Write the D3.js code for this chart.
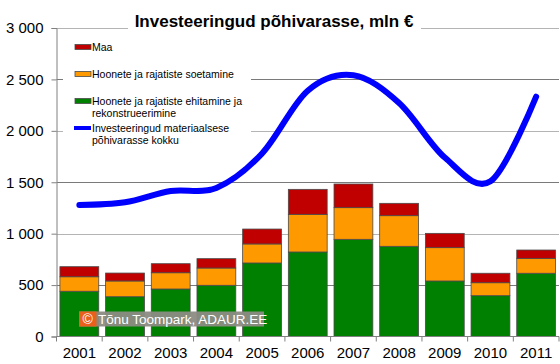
<!DOCTYPE html>
<html><head><meta charset="utf-8">
<script src="https://cdn.jsdelivr.net/npm/d3@7"></script>
<style>
body{margin:0;background:#fff;}
svg{display:block;font-family:"Liberation Sans",Arial,sans-serif;}
</style></head>
<body>
<svg id="c" width="560" height="364"></svg>
<script>
const years = ["2001","2002","2003","2004","2005","2006","2007","2008","2009","2010","2011"];
const ehitamine = [440,387,462,498,715,822,945,877,540,397,615];
const soetamine = [141,153,158,168,185,366,308,298,324,126,145];
const maa = [98,77,88,91,145,243,230,120,139,92,81];
const kokku = [1279,1305,1415,1445,1780,2390,2540,2270,1740,1510,2332];
const yTicks = [0,500,1000,1500,2000,2500,3000];
const seriesNames = ["Maa","Hoonete ja rajatiste soetamine","Hoonete ja rajatiste ehitamine ja|rekonstrueerimine","Investeeringud materiaalsese|põhivarasse kokku"];
const title = "Investeeringud põhivarasse, mln €";

const svg = d3.select("#c");
const L = 56.5, R = 559, T = 28, B = 336.5;
const x = d3.scaleBand().domain(years).range([L,R]).paddingInner(0.15).paddingOuter(0.075);
const y = d3.scaleLinear().domain([0,3000]).range([B,T]);

// gridlines
svg.append("g").selectAll("line").data(yTicks.filter(d=>d>0)).join("line")
  .attr("x1",L).attr("x2",R).attr("y1",d=>Math.round(y(d))+0.5).attr("y2",d=>Math.round(y(d))+0.5)
  .attr("stroke",(d,i)=> i%2? "#b4b4b4":"#7a7a7a").attr("stroke-width",1);

// stacked bars
const rows = years.map((yr,i)=>({year:yr,ehitamine:ehitamine[i],soetamine:soetamine[i],maa:maa[i]}));
const stack = d3.stack().keys(["ehitamine","soetamine","maa"])(rows);
const colors = {ehitamine:"#008000",soetamine:"#ff9900",maa:"#c00000"};
svg.append("g").selectAll("g").data(stack).join("g")
  .attr("fill",d=>colors[d.key])
  .selectAll("rect").data(d=>d).join("rect")
  .attr("x",d=>x(d.data.year)).attr("width",x.bandwidth())
  .attr("y",d=>y(d[1])).attr("height",d=>y(d[0])-y(d[1]))
  .attr("stroke","#4a4a4a").attr("stroke-width",0.8);

// axes
const yAxis = svg.append("g").attr("transform",`translate(${L},0)`)
  .call(d3.axisLeft(y).tickValues(yTicks).tickSize(5).tickPadding(8)
    .tickFormat(d=>d3.format(",")(d).replace(/,/g," ")));
yAxis.select(".domain").attr("stroke","#808080");
yAxis.selectAll(".tick line").attr("stroke","#808080");
yAxis.selectAll("text").attr("font-size",15).attr("fill","#000").attr("font-family","Liberation Sans, Arial, sans-serif");

const xg = svg.append("g").attr("transform",`translate(0,${B})`);
xg.append("line").attr("x1",L).attr("x2",R).attr("stroke","#808080");
const bounds = years.map(d=>x(d)-x.step()*x.paddingInner()/2).concat([R]);
xg.selectAll("line.t").data(bounds).join("line").attr("class","t")
  .attr("x1",d=>d).attr("x2",d=>d).attr("y1",0).attr("y2",5).attr("stroke","#808080");
xg.selectAll("text").data(years).join("text")
  .attr("x",d=>x(d)+x.bandwidth()/2).attr("y",21).attr("text-anchor","middle")
  .attr("font-size",15).text(d=>d);

// line
const line = d3.line().x((d,i)=>x(years[i])+x.bandwidth()/2).y(d=>y(d)).curve(d3.curveCatmullRom.alpha(0));
svg.append("path").datum(kokku).attr("d",line).attr("fill","none")
  .attr("stroke","#0000ff").attr("stroke-width",6).attr("stroke-linecap","round");

// title
svg.append("rect").attr("x",128).attr("y",8).attr("width",293).attr("height",24).attr("fill","#fff");
svg.append("text").attr("x",274).attr("y",27).attr("text-anchor","middle")
  .attr("font-size",17).attr("font-weight","bold").text(title);

// legend
const lg = svg.append("g");
lg.append("rect").attr("x",63).attr("y",34).attr("width",188).attr("height",114).attr("fill","#fff");
const legY = [47,74,101,128];
const legC = ["#c00000","#ff9900","#008000","#0000ff"];
seriesNames.forEach((name,i)=>{
  if(i<3){
    lg.append("rect").attr("x",75).attr("y",legY[i]-2.5).attr("width",16).attr("height",5)
      .attr("fill",legC[i]).attr("stroke","#4a4a4a").attr("stroke-width",0.8);
  } else {
    lg.append("line").attr("x1",74).attr("x2",91).attr("y1",legY[i]).attr("y2",legY[i])
      .attr("stroke",legC[i]).attr("stroke-width",4);
  }
  name.split("|").forEach((t,j)=>{
    lg.append("text").attr("x",92).attr("y",legY[i]+4+j*11.5).attr("font-size",10.5).text(t);
  });
});

// watermark
const wm = svg.append("g");
wm.append("rect").attr("x",79).attr("y",311.5).attr("width",185).attr("height",15).attr("fill","#8c8c84").attr("opacity",0.95);
wm.append("rect").attr("x",79).attr("y",311.5).attr("width",17.5).attr("height",15).attr("fill","#e8601c");
wm.append("text").attr("x",87.7).attr("y",324).attr("text-anchor","middle").attr("fill","#fff").attr("font-size",14).text("©");
wm.append("text").attr("x",98).attr("y",324).attr("fill","#fff").attr("font-size",13.5).text("Tõnu Toompark, ADAUR.EE");
</script>
</body></html>
